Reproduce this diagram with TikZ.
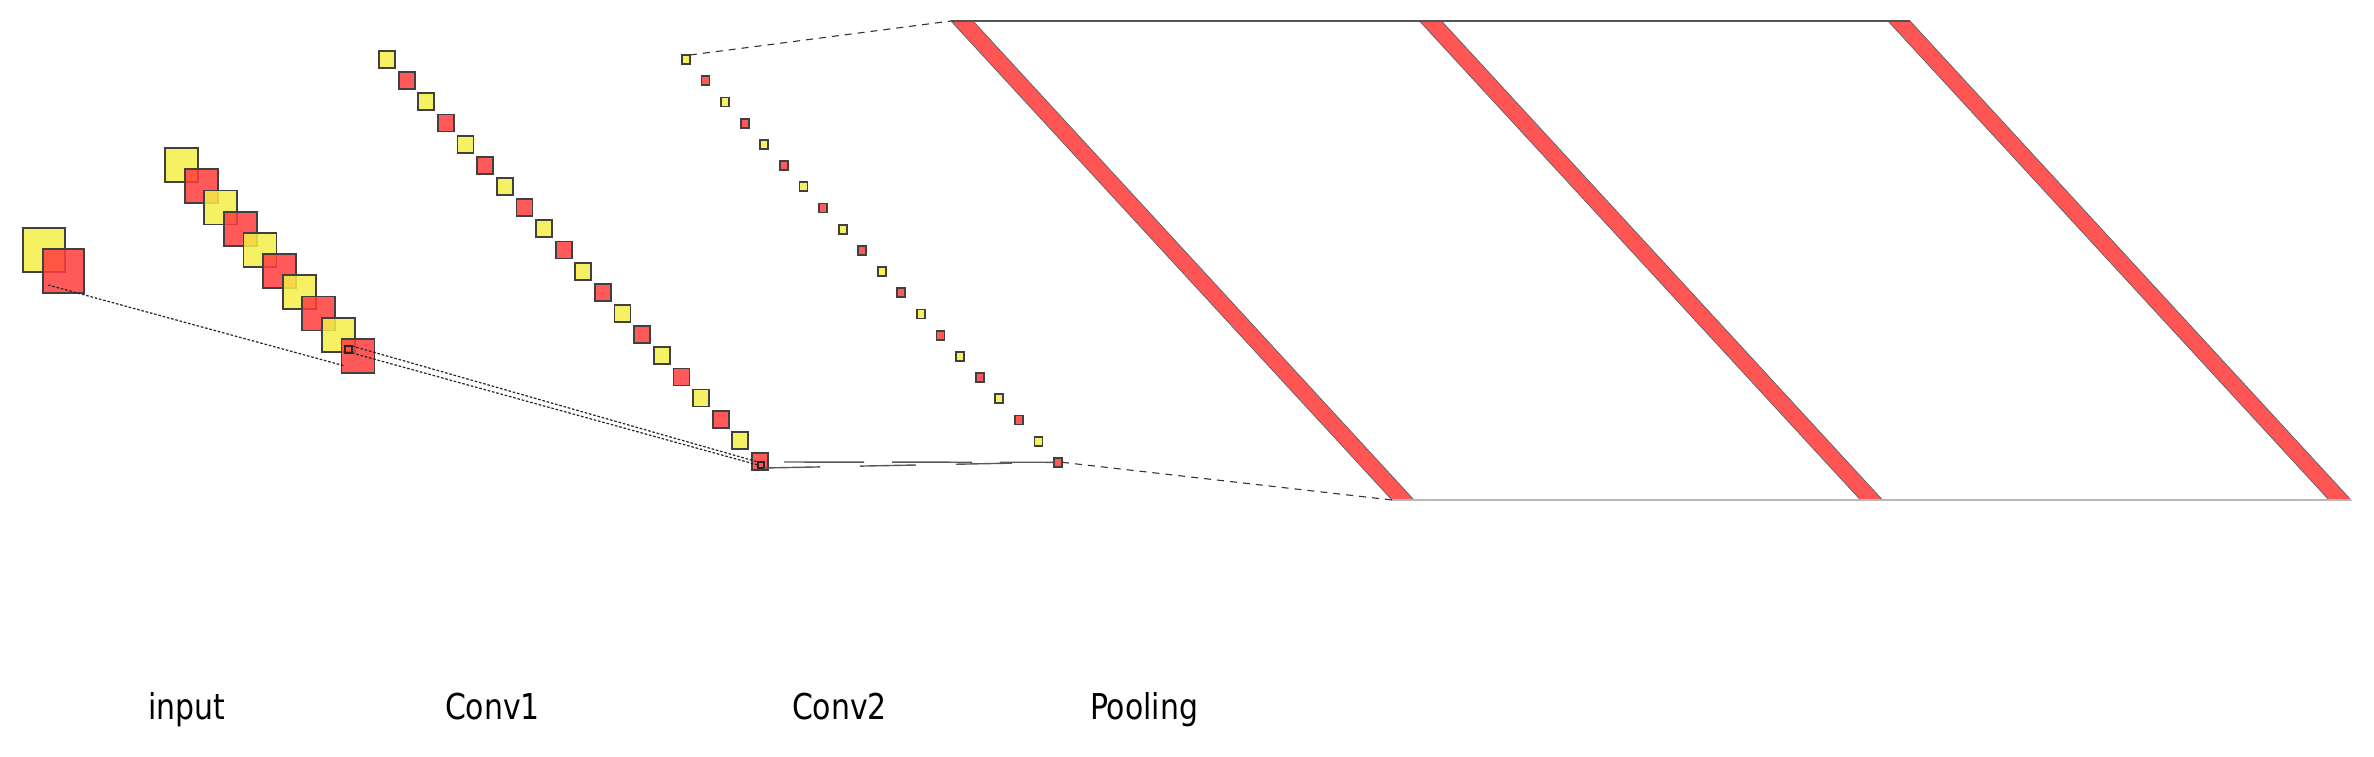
\documentclass[tikz,border=0pt]{standalone}
\usepackage{fontspec}
\usepackage{graphicx}
\setmainfont{DejaVu Sans}
\definecolor{myyellow}{RGB}{243,238,70}
\definecolor{myred}{RGB}{255,60,60}
\definecolor{bandred}{RGB}{255,85,85}
\definecolor{edge}{RGB}{64,64,64}
\begin{document}
\begin{tikzpicture}[x=0.5pt,y=-0.5pt,
  sq/.style={draw=edge, line width=0.9pt, inner sep=0pt, outer sep=0pt, fill opacity=0.85},
  smallsq/.style={draw=black!85, line width=0.8pt, inner sep=0pt, outer sep=0pt, fill=none},
  band/.style={fill=bandred, draw=edge!80, line width=0.4pt},
  dotline/.style={draw=black!85, line width=0.6pt, dash pattern=on 1.3pt off 0.9pt},
  dashline/.style={draw=black!80, line width=0.55pt, dash pattern=on 3.5pt off 3pt},
  ghost/.style={draw=black!65, line width=0.7pt},
  lbl/.style={inner sep=0pt, outer sep=0pt, font=\fontsize{17.8}{20}\selectfont}]
\useasboundingbox (0,0) rectangle (2374,756);

% input
\node[sq, fill=myyellow, minimum width=21pt, minimum height=22pt] (inY) at (44,250) {};
\node[sq, fill=myred, minimum width=20.5pt, minimum height=22pt] (inR) at (63.5,271) {};

% conv1
\foreach \j in {0,...,9}{
  \ifodd\j\def\c{myred}\else\def\c{myyellow}\fi
  \node[sq, fill=\c, minimum width=16.5pt, minimum height=17pt] (c1-\j) at ({181.5+19.6*\j},{165+21.2*\j}) {};
}
\node[smallsq, minimum width=3.5pt, minimum height=3.5pt] (c1s) at (348.5,349.5) {};

% conv2
\foreach \j in {0,...,19}{
  \ifodd\j\def\c{myred}\else\def\c{myyellow}\fi
  \node[sq, fill=\c, minimum width=8pt, minimum height=8.5pt] (c2-\j) at ({387+19.63*\j},{59.5+21.16*\j}) {};
}
\node[smallsq, minimum width=3pt, minimum height=3pt] (c2s) at (761,465) {};

% pooling
\foreach \j in {0,...,19}{
  \ifodd\j\def\c{myred}\else\def\c{myyellow}\fi
  \node[sq, fill=\c, minimum width=4pt, minimum height=4.5pt] (p-\j) at ({686+19.58*\j},{59.5+21.2*\j}) {};
}

% big layer
\foreach \k in {0,1,2}{
  \fill[band] ({951+468.5*\k},21) -- ({973+468.5*\k},21) -- ({1414+468.5*\k},500) -- ({1392+468.5*\k},500) -- cycle;
}
\coordinate (bTL) at (951,21);
\coordinate (bTR) at (1910,21);
\coordinate (bBL) at (1392,500);
\coordinate (bBR) at (2351,500);
\draw[edge!90, line width=1pt] (bTL) -- (bTR);
\draw[black!28, line width=1pt] (bBL) -- (bBR);

% connectors
\coordinate (inS) at (48,285);
\coordinate (c1E) at (345,366);
\draw[dotline] (inS) -- (c1E);
\draw[dotline] (c1s.north east) -- (c2s.north west);
\draw[dotline] (c1s.south east) -- ([yshift=-1.5pt]c2s.north west);
\draw[ghost, dash pattern=on 40pt off 14pt, dash phase=-10pt] (c2s.north east) -- (p-19.west);
\draw[ghost, dash pattern=on 28pt off 20pt] (c2s.south east) -- (p-19.west);
\draw[dashline] (p-0.north east) -- (bTL);
\draw[dashline] (p-19.east) -- (bBL);

% labels
\node[lbl, anchor=base west] (tin) at (148,719) {\scalebox{0.84}[1]{input}};
\node[lbl, anchor=base west] (tc1) at (445,719) {\scalebox{0.84}[1]{Conv1}};
\node[lbl, anchor=base west] (tc2) at (792,719) {\scalebox{0.84}[1]{Conv2}};
\node[lbl, anchor=base west] (tpo) at (1090,719) {\scalebox{0.84}[1]{Pooling}};
\end{tikzpicture}
\end{document}
